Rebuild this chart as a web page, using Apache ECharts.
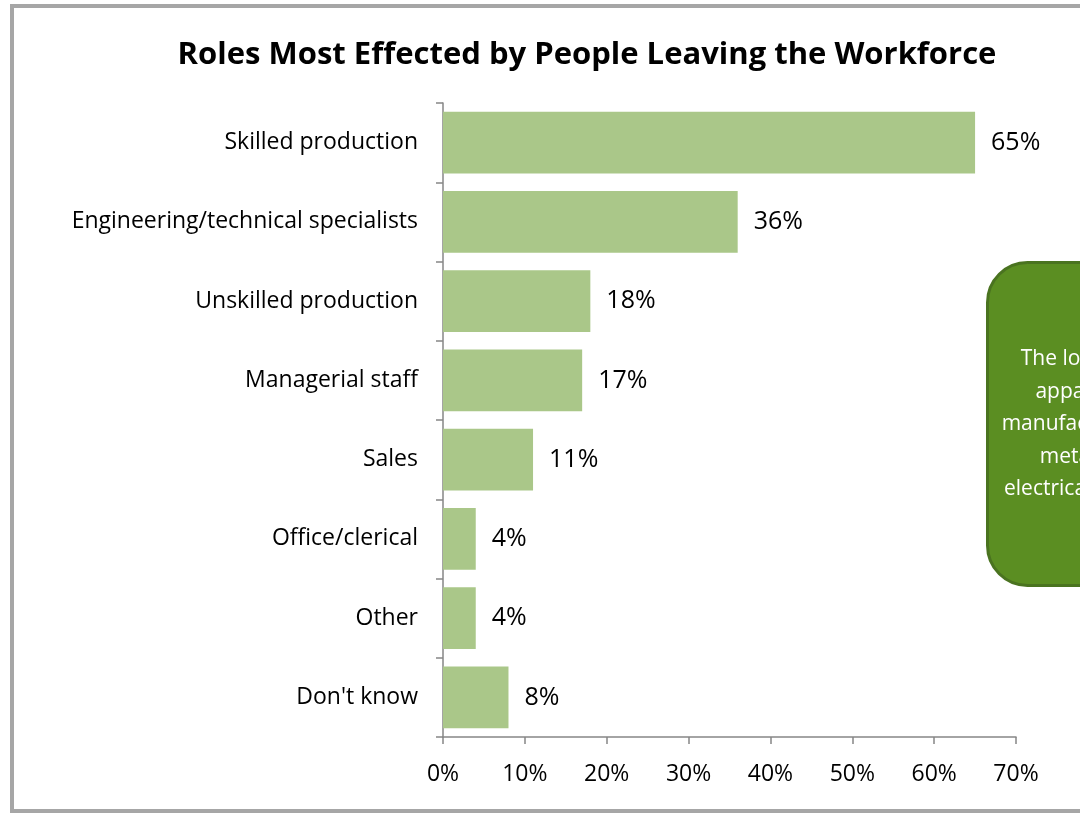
<!DOCTYPE html>
<html>
<head>
<meta charset="utf-8">
<script src="https://cdn.jsdelivr.net/npm/echarts@6/dist/echarts.min.js"></script>
<style>
  html, body { margin: 0; padding: 0; background: #fff; }
  #main { width: 1080px; height: 813px; }
</style>
</head>
<body>
<div id="main"></div>
<script>
// categories, top to bottom
const roles = [
  "Skilled production",
  "Engineering/technical specialists",
  "Unskilled production",
  "Managerial staff",
  "Sales",
  "Office/clerical",
  "Other",
  "Don't know"
];
// share of respondents, %
const shares = [65, 36, 18, 17, 11, 4, 4, 8];
// x axis range
const axisMin = 0;
const axisMax = 70;
const axisStep = 10;
// callout text (box is cut off by the right edge)
const calloutLines = [
  "The loss of talent is",
  "apparent across",
  "manufacturing sectors,",
  "metals, plastics",
  "electrical components."
];

const FONT = "Open Sans";
const chart = echarts.init(document.getElementById("main"));

const option = {
  animation: false,
  title: {
    text: "Roles Most Effected by People Leaving the Workforce",
    left: 582,
    top: 35,
    textAlign: "center",
    textStyle: { fontFamily: FONT, fontSize: 31, fontWeight: "bold", color: "#000" }
  },
  grid: { left: 443, right: 64, top: 103, bottom: 76, containLabel: false },
  xAxis: {
    type: "value",
    min: axisMin,
    max: axisMax,
    interval: axisStep,
    splitLine: { show: false },
    axisLine: { show: true, lineStyle: { color: "#868686", width: 1.5 } },
    axisTick: { show: true, length: 7, lineStyle: { color: "#868686", width: 1.5 } },
    axisLabel: {
      formatter: "{value}%",
      margin: 26,
      fontFamily: FONT,
      fontSize: 23,
      color: "#000"
    }
  },
  yAxis: {
    type: "category",
    data: roles,
    inverse: true,
    axisLine: { show: true, lineStyle: { color: "#868686", width: 1.5 } },
    axisTick: { show: true, length: 7, alignWithLabel: false, lineStyle: { color: "#868686", width: 1.5 } },
    axisLabel: { margin: 25, padding: [5, 0, 0, 0], fontFamily: FONT, fontSize: 23, color: "#000" }
  },
  series: [
    {
      type: "bar",
      data: shares,
      barCategoryGap: "22%",
      itemStyle: { color: "#AAC789" },
      label: {
        show: true,
        position: "right",
        distance: 16,
        padding: [5, 0, 0, 0],
        formatter: "{c}%",
        fontFamily: FONT,
        fontSize: 25,
        color: "#000"
      }
    }
  ],
  graphic: [
    {
      type: "rect",
      z: -10,
      shape: { x: 12, y: 6, width: 1200, height: 805 },
      style: { fill: "none", stroke: "#A6A6A6", lineWidth: 4 }
    },
    {
      type: "group",
      left: 986,
      top: 261,
      children: [
        {
          type: "rect",
          shape: { x: 0, y: 0, width: 254, height: 323, r: 40 },
          style: { fill: "#5B8E22", stroke: "#4A7320", lineWidth: 3 }
        },
        {
          type: "text",
          x: 127,
          y: 162,
          style: {
            text: calloutLines.join("\n"),
            fill: "#fff",
            fontFamily: FONT,
            fontSize: 21,
            lineHeight: 32.5,
            align: "center",
            verticalAlign: "middle"
          }
        }
      ]
    }
  ]
};

chart.setOption(option);
</script>
</body>
</html>
